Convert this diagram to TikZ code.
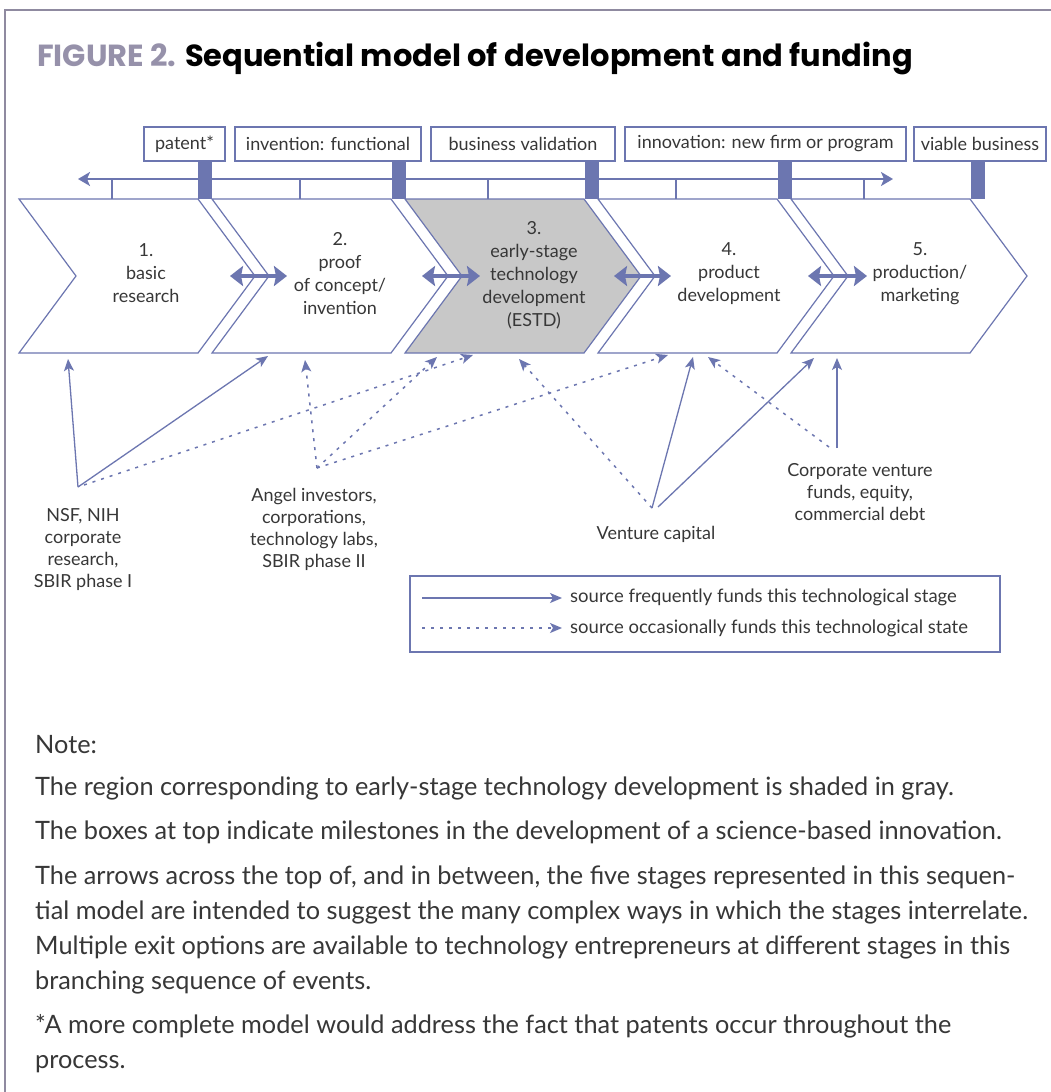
\documentclass[tikz,border=0pt]{standalone}
\usepackage{fontspec}
\setmainfont{Lato}
\newfontfamily\titlefont{Poppins}
\usetikzlibrary{arrows.meta}
\definecolor{pur}{RGB}{108,118,176}
\definecolor{framec}{RGB}{143,138,160}
\definecolor{figc}{RGB}{150,145,170}
\definecolor{txt}{RGB}{55,55,55}
\definecolor{grayfill}{RGB}{200,200,200}
\tikzset{
  milestone/.style={draw=pur, line width=1.4pt, inner sep=0pt, minimum height=34pt, text=txt, font=\fontsize{18}{22}\selectfont},
  chev/.style={draw=pur, line width=1.2pt, line join=miter},
  stagetext/.style={align=center, text=txt, font=\fontsize{18}{23}\selectfont, inner sep=0pt},
  srctext/.style={align=center, text=txt, font=\fontsize{18}{22}\selectfont, inner sep=0pt},
  dbl/.style={pur, line width=4.5pt, {Stealth[length=13pt,width=20pt,inset=2pt]}-{Stealth[length=13pt,width=20pt,inset=2pt]}},
  freq/.style={pur, line width=1.3pt, -{Stealth[length=12pt,width=10pt,inset=3pt]}},
  occ/.style={pur, line width=1.5pt, dash pattern=on 3pt off 6pt, -{Stealth[length=12pt,width=10pt,inset=3pt]}},
  notetext/.style={anchor=base west, inner sep=0pt, text=txt, font=\fontsize{25.3}{30}\selectfont},
  legtext/.style={anchor=base west, inner sep=0pt, text=txt, font=\fontsize{18.5}{22}\selectfont},
}
\begin{document}
\begin{tikzpicture}[x=1pt,y=-1pt]
\useasboundingbox (0,0) rectangle (1051,1092);
\fill[white] (0,0) rectangle (1051,1092);
\draw[framec, line width=2.5pt] (5,1092) -- (5,10) -- (1051,10);

% title
\node[anchor=base west, inner sep=0pt] (title) at (37,66)
  {\titlefont\bfseries\fontsize{30.5}{36}\selectfont\textcolor{figc}{FIGURE 2.} Sequential model of development and funding};

% milestone boxes
\node[milestone, minimum width=81pt]  (m1) at (184.5,144) {patent*};
\node[milestone, minimum width=186pt] (m2) at (328,144) {invention: functional};
\node[milestone, minimum width=184pt] (m3) at (523,144) {business validation};
\node[milestone, minimum width=281pt] (m4) at (765.5,144) {innovation: new firm or program};
\node[milestone, minimum width=132pt] (m5) at (980,144) {viable business};

% timeline
\coordinate (tl) at (78,179);
\coordinate (tr) at (893,179);
\draw[pur, line width=2pt, {Stealth[length=12pt,width=14pt,inset=3pt]}-{Stealth[length=12pt,width=14pt,inset=3pt]}] (tl) -- (tr);
\foreach \x in {112,300,488,676,864} \draw[pur, line width=1.2pt] (\x,179) -- (\x,199);

% bars
\foreach \x in {198,392,585,778,971} \fill[pur] (\x,161) rectangle ++(13.5,38);

% chevrons
\foreach \x in {19,212,598,791}
  \draw[chev] (\x,199) -- ++(179,0) -- ++(57,77) -- ++(-57,77) -- ++(-179,0) -- ++(57,-77) -- cycle;
\draw[chev, fill=grayfill] (405,199) -- ++(179,0) -- ++(57,77) -- ++(-57,77) -- ++(-179,0) -- ++(57,-77) -- cycle;

% stage texts
\node[stagetext] (s1) at (146,273) {1.\\basic\\research};
\node[stagetext] (s2) at (340,274) {2.\\proof\\of concept/\\invention};
\node[stagetext] (s3) at (534,275) {3.\\early-stage\\technology\\development\\(ESTD)};
\node[stagetext] (s4) at (729,274) {4.\\product\\development};
\node[stagetext] (s5) at (920,274) {5.\\production/\\marketing};

% double arrows between stages
\coordinate (j1a) at (230,276); \coordinate (j1b) at (287,276);
\coordinate (j2a) at (422,276); \coordinate (j2b) at (480,276);
\coordinate (j3a) at (614,276); \coordinate (j3b) at (671,276);
\coordinate (j4a) at (808,276); \coordinate (j4b) at (867,276);
\draw[dbl] (j1a) -- (j1b);
\draw[dbl] (j2a) -- (j2b);
\draw[dbl] (j3a) -- (j3b);
\draw[dbl] (j4a) -- (j4b);

% funding sources
\coordinate (nsf) at (78,487);
\coordinate (nsfd) at (84,485);
\coordinate (ang) at (317,468);
\coordinate (vc) at (652,508);
\coordinate (vc2) at (658,507);
\coordinate (cor) at (837,448);
\coordinate (cord) at (829,447);
% targets
\coordinate (t1) at (68,359);
\coordinate (t2a) at (268,356);
\coordinate (t2b) at (305,360);
\coordinate (t3a) at (437,357);
\coordinate (t3b) at (473,355);
\coordinate (t3c) at (519,359);
\coordinate (t4a) at (668,355);
\coordinate (t4b) at (693,357);
\coordinate (t4c) at (708,357);
\coordinate (t5a) at (814,358);
\coordinate (t5b) at (837,358);

\draw[freq] (nsf) -- (t1);
\draw[freq] (nsf) -- (t2a);
\draw[occ] (nsfd) -- (t3b);
\draw[occ] (ang) -- (t2b);
\draw[occ] (ang) -- (t3a);
\draw[occ] (ang) -- (t4a);
\draw[occ] (vc) -- (t3c);
\draw[freq] (vc) -- (t4b);
\draw[freq] (vc2) -- (t5a);
\draw[freq] (cor) -- (t5b);
\draw[occ] (cord) -- (t4c);

\node[srctext] (lnsf) at (83,550) {NSF, NIH\\corporate\\research,\\SBIR phase I};
\node[srctext] (lang) at (314,529) {Angel investors,\\corporations,\\technology labs,\\SBIR phase II};
\node[srctext] (lvc) at (656,534) {Venture capital};
\node[srctext] (lcor) at (860,492) {Corporate venture\\funds, equity,\\commercial debt};

% legend
\node[draw=pur, line width=1.2pt, minimum width=590pt, minimum height=76pt, inner sep=0pt] (legend) at (705,614) {};
\coordinate (la1) at (422,598); \coordinate (lb1) at (562,598);
\coordinate (la2) at (422,628); \coordinate (lb2) at (562,628);
\draw[freq] (la1) -- (lb1);
\draw[occ] (la2) -- (lb2);
\node[legtext] (lt1) at (570,602) {source frequently funds this technological stage};
\node[legtext] (lt2) at (570,633) {source occasionally funds this technological state};

% notes
\node[notetext] (n0) at (35,753) {Note:};
\node[notetext] (n1) at (35,795) {The region corresponding to early-stage technology development is shaded in gray.};
\node[notetext] (n2) at (35,839) {The boxes at top indicate milestones in the development of a science-based innovation.};
\node[notetext] (n3) at (35,884) {The arrows across the top of, and in between, the five stages represented in this sequen-};
\node[notetext] (n4) at (35,919) {tial model are intended to suggest the many complex ways in which the stages interrelate.};
\node[notetext] (n5) at (35,954) {Multiple exit options are available to technology entrepreneurs at different stages in this};
\node[notetext] (n6) at (35,989) {branching sequence of events.};
\node[notetext] (n7) at (35,1033) {*A more complete model would address the fact that patents occur throughout the};
\node[notetext] (n8) at (35,1068) {process.};
\end{tikzpicture}
\end{document}
